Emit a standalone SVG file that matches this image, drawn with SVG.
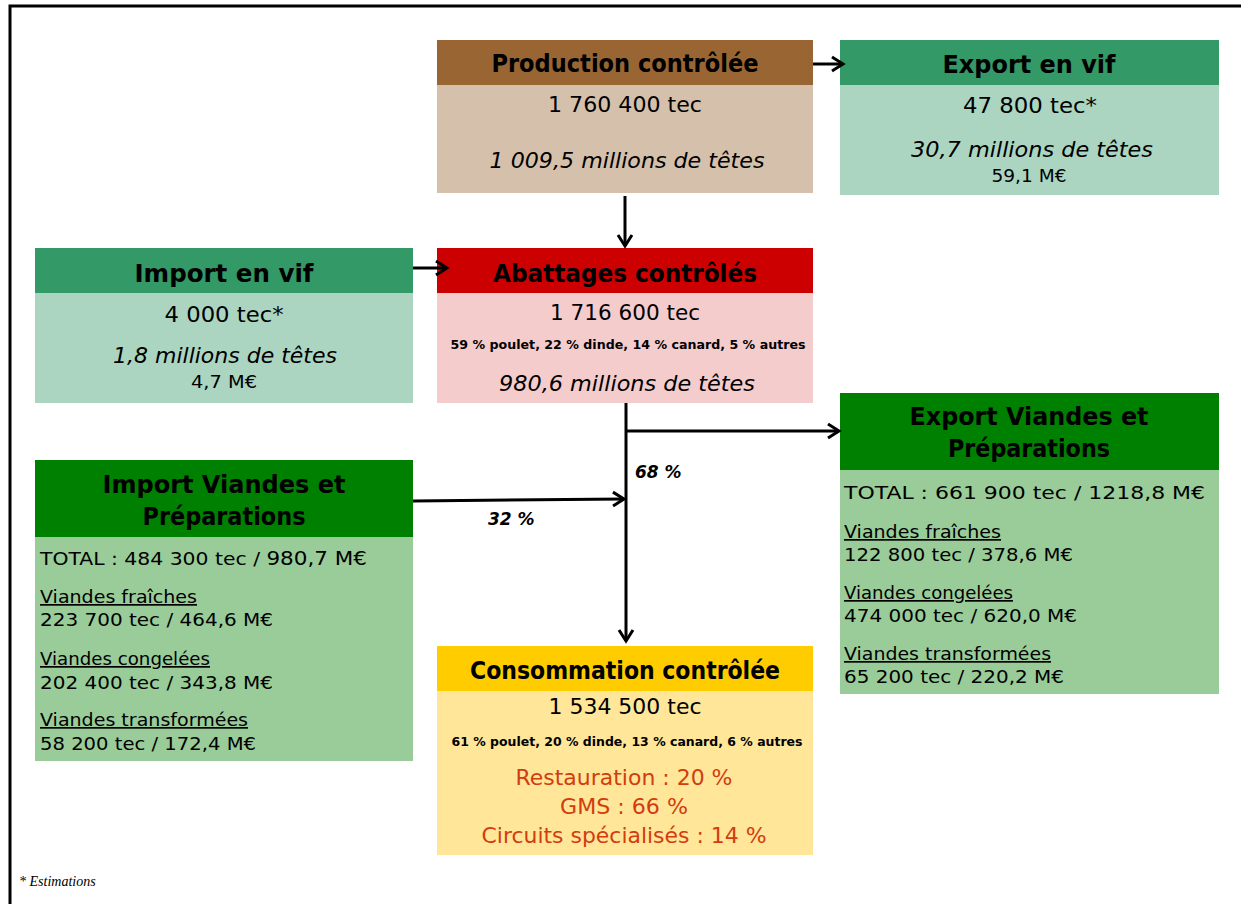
<svg xmlns="http://www.w3.org/2000/svg" width="1241" height="904" viewBox="0 0 1241 904">
<defs>
<style>
text{font-family:"Comic Sans MS","DejaVu Sans","Noto Sans",sans-serif;fill:#000}
.t{font-weight:bold;font-size:24px;text-anchor:middle}
.n{font-size:21px;text-anchor:middle}
.i{font-style:italic;font-size:21px;text-anchor:middle}
.s{font-size:17px;text-anchor:middle}
.b{font-weight:bold;font-size:12.5px;text-anchor:middle}
.l{font-size:18px}
.u{font-size:17px;text-decoration:underline}
.r{font-size:21px;text-anchor:middle;fill:#D23C0F}
.p{font-weight:bold;font-style:italic;font-size:17px}
.c{stroke:#000;stroke-width:3;fill:none}
</style>
<marker id="ah" markerUnits="userSpaceOnUse" markerWidth="16" markerHeight="18" refX="13" refY="8" orient="auto" viewBox="0 0 16 16">
<path d="M2,1 L13,8 L2,15" fill="none" stroke="#000" stroke-width="3"/>
</marker>
</defs>
<rect width="1241" height="904" fill="#fff"/>
<path d="M10,904 V6 H1241" fill="none" stroke="#000" stroke-width="3"/>

<g id="production">
<rect x="437" y="40" width="376" height="45" fill="#996633"/>
<rect x="437" y="85" width="376" height="108" fill="#D5C0AB"/>
<text class="t" x="625" y="72" textLength="267" lengthAdjust="spacingAndGlyphs">Production contrôlée</text>
<text class="n" x="625" y="112" textLength="154" lengthAdjust="spacingAndGlyphs">1 760 400 tec</text>
<text class="i" x="627" y="168" textLength="275" lengthAdjust="spacingAndGlyphs">1 009,5 millions de têtes</text>
</g>

<g id="export-vif">
<rect x="840" y="40" width="379" height="45" fill="#339966"/>
<rect x="840" y="85" width="379" height="110" fill="#ABD5C0"/>
<text class="t" x="1029" y="73" textLength="173" lengthAdjust="spacingAndGlyphs">Export en vif</text>
<text class="n" x="1030" y="113" textLength="134" lengthAdjust="spacingAndGlyphs">47 800 tec*</text>
<text class="i" x="1032" y="157" textLength="242" lengthAdjust="spacingAndGlyphs">30,7 millions de têtes</text>
<text class="s" x="1029" y="182" textLength="75" lengthAdjust="spacingAndGlyphs">59,1 M€</text>
</g>

<g id="import-vif">
<rect x="35" y="248" width="378" height="45" fill="#339966"/>
<rect x="35" y="293" width="378" height="110" fill="#ABD5C0"/>
<text class="t" x="224" y="282" textLength="179" lengthAdjust="spacingAndGlyphs">Import en vif</text>
<text class="n" x="224" y="322" textLength="119" lengthAdjust="spacingAndGlyphs">4 000 tec*</text>
<text class="i" x="225" y="363" textLength="224" lengthAdjust="spacingAndGlyphs">1,8 millions de têtes</text>
<text class="s" x="224" y="388" textLength="66" lengthAdjust="spacingAndGlyphs">4,7 M€</text>
</g>

<g id="abattages">
<rect x="437" y="248" width="376" height="45" fill="#CC0000"/>
<rect x="437" y="293" width="376" height="110" fill="#F4CCCC"/>
<text class="t" x="625" y="282" textLength="264" lengthAdjust="spacingAndGlyphs">Abattages contrôlés</text>
<text class="n" x="625" y="320" textLength="150" lengthAdjust="spacingAndGlyphs">1 716 600 tec</text>
<text class="b" x="628" y="349" textLength="355" lengthAdjust="spacingAndGlyphs">59 % poulet, 22 % dinde, 14 % canard, 5 % autres</text>
<text class="i" x="627" y="391" textLength="256" lengthAdjust="spacingAndGlyphs">980,6 millions de têtes</text>
</g>

<g id="export-viandes">
<rect x="840" y="393" width="379" height="77" fill="#008000"/>
<rect x="840" y="470" width="379" height="224" fill="#99CC99"/>
<text class="t" x="1029" y="425" textLength="239" lengthAdjust="spacingAndGlyphs">Export Viandes et</text>
<text class="t" x="1029" y="457" textLength="162" lengthAdjust="spacingAndGlyphs">Préparations</text>
<text class="l" x="844" y="499" font-size="21" textLength="361" lengthAdjust="spacingAndGlyphs">TOTAL : 661 900 tec / <tspan font-size="18">1218,8 M€</tspan></text>
<text class="u" x="844" y="538" textLength="157" lengthAdjust="spacingAndGlyphs">Viandes fraîches</text>
<text class="l" x="844" y="561" textLength="229" lengthAdjust="spacingAndGlyphs">122 800 tec / 378,6 M€</text>
<text class="u" x="844" y="599" textLength="169" lengthAdjust="spacingAndGlyphs">Viandes congelées</text>
<text class="l" x="844" y="622" textLength="233" lengthAdjust="spacingAndGlyphs">474 000 tec / 620,0 M€</text>
<text class="u" x="844" y="660" textLength="207" lengthAdjust="spacingAndGlyphs">Viandes transformées</text>
<text class="l" x="844" y="683" textLength="220" lengthAdjust="spacingAndGlyphs">65 200 tec / 220,2 M€</text>
</g>

<g id="import-viandes">
<rect x="35" y="460" width="378" height="77" fill="#008000"/>
<rect x="35" y="537" width="378" height="224" fill="#99CC99"/>
<text class="t" x="224" y="493" textLength="243" lengthAdjust="spacingAndGlyphs">Import Viandes et</text>
<text class="t" x="224" y="525" textLength="163" lengthAdjust="spacingAndGlyphs">Préparations</text>
<text class="l" x="40" y="565" font-size="21" textLength="327" lengthAdjust="spacingAndGlyphs">TOTAL : 484 300 tec / <tspan font-size="19">980,7 M€</tspan></text>
<text class="u" x="40" y="603" textLength="157" lengthAdjust="spacingAndGlyphs">Viandes fraîches</text>
<text class="l" x="40" y="626" textLength="233" lengthAdjust="spacingAndGlyphs">223 700 tec / 464,6 M€</text>
<text class="u" x="40" y="665" textLength="170" lengthAdjust="spacingAndGlyphs">Viandes congelées</text>
<text class="l" x="40" y="689" textLength="233" lengthAdjust="spacingAndGlyphs">202 400 tec / 343,8 M€</text>
<text class="u" x="40" y="726" textLength="208" lengthAdjust="spacingAndGlyphs">Viandes transformées</text>
<text class="l" x="40" y="750" textLength="216" lengthAdjust="spacingAndGlyphs">58 200 tec / 172,4 M€</text>
</g>

<g id="consommation">
<rect x="437" y="646" width="376" height="45" fill="#FFCC00"/>
<rect x="437" y="691" width="376" height="164" fill="#FFE699"/>
<text class="t" x="625" y="679" textLength="310" lengthAdjust="spacingAndGlyphs">Consommation contrôlée</text>
<text class="n" x="625" y="714" textLength="153" lengthAdjust="spacingAndGlyphs">1 534 500 tec</text>
<text class="b" x="627" y="746" textLength="351" lengthAdjust="spacingAndGlyphs">61 % poulet, 20 % dinde, 13 % canard, 6 % autres</text>
<text class="r" x="624" y="785" textLength="217" lengthAdjust="spacingAndGlyphs">Restauration : 20 %</text>
<text class="r" x="624" y="814" textLength="128" lengthAdjust="spacingAndGlyphs">GMS : 66 %</text>
<text class="r" x="624" y="843" textLength="285" lengthAdjust="spacingAndGlyphs">Circuits spécialisés : 14 %</text>
</g>

<g id="connectors">
<line class="c" x1="813" y1="64" x2="843" y2="64" marker-end="url(#ah)"/>
<line class="c" x1="625" y1="196" x2="625" y2="246" marker-end="url(#ah)"/>
<line class="c" x1="413" y1="268" x2="447" y2="268" marker-end="url(#ah)"/>
<line class="c" x1="626" y1="403" x2="626" y2="641" marker-end="url(#ah)"/>
<line class="c" x1="626" y1="431" x2="839" y2="431" marker-end="url(#ah)"/>
<line class="c" x1="413" y1="501" x2="624" y2="499" marker-end="url(#ah)"/>
<text class="p" x="635" y="478">68 %</text>
<text class="p" x="488" y="525">32 %</text>
</g>

<text x="19" y="886" style="font-family:'Liberation Serif',serif;font-style:italic;font-size:14px">* Estimations</text>
</svg>
